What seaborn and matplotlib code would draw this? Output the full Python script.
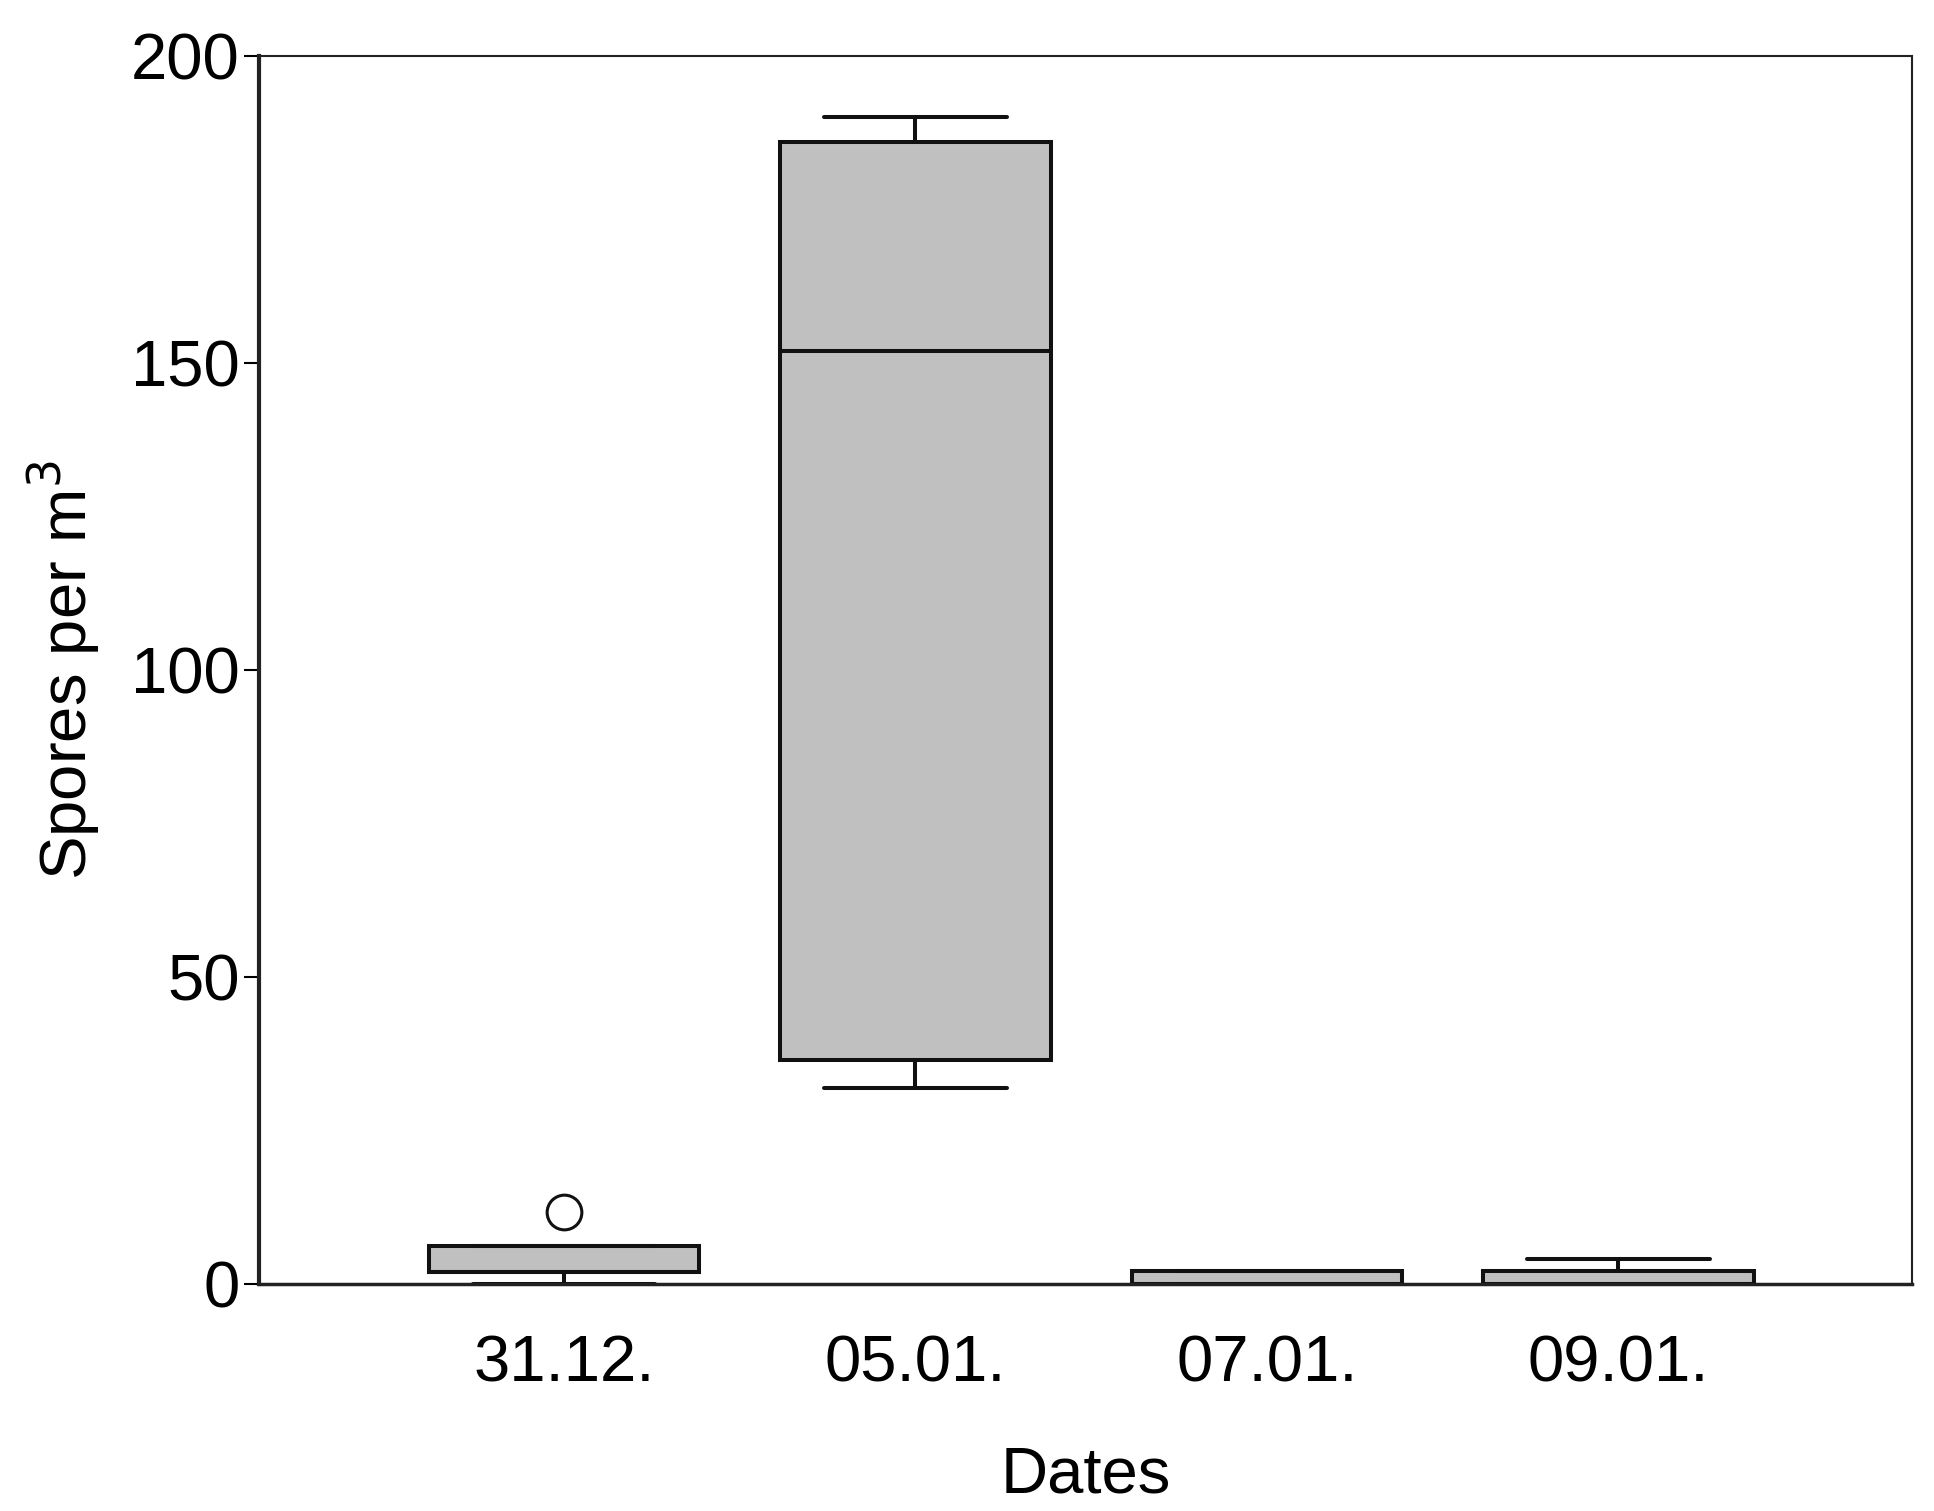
import pandas as pd
import matplotlib
matplotlib.use("Agg")
import matplotlib.pyplot as plt
import seaborn as sns

# Spore counts per sampling date
dates = ["31.12.", "05.01.", "07.01.", "09.01."]
spores_3112 = [0, 2, 2, 2, 6.3, 6.3, 11.8]
spores_0501 = [32, 36.5, 152, 186, 190]
spores_0701 = [0, 0, 0, 2.2, 2.2]
spores_0901 = [0, 0, 0, 2.2, 4.2]

y_ticks = [0, 50, 100, 150, 200]

sns.set_style("white")
plt.rcParams['font.family'] = ['Liberation Sans', 'DejaVu Sans']
plt.rcParams['text.color'] = 'black'
plt.rcParams['axes.labelcolor'] = 'black'
plt.rcParams['xtick.color'] = 'black'
plt.rcParams['ytick.color'] = 'black'

rows = []
for d, vals in zip(dates, [spores_3112, spores_0501, spores_0701, spores_0901]):
    for v in vals:
        rows.append({"Dates": d, "Spores": v})
df = pd.DataFrame(rows)

fig = plt.figure(figsize=(19.34, 15.11), dpi=100)
ax = fig.add_axes([0.134, 0.150, 0.8546, 0.813])

sns.boxplot(
    data=df, x="Dates", y="Spores", order=dates, ax=ax,
    color="#c0c0c0", width=0.77, whis=1.2, saturation=1,
    linecolor="#111111", linewidth=2.9, capwidths=0.52,
    flierprops=dict(marker="o", markersize=25, markerfacecolor="white",
                    markeredgecolor="#111111", markeredgewidth=2.2),
)

ax.set_xlim(-0.867, 3.835)
ax.set_ylim(0, 200)
ax.set_yticks(y_ticks)
ax.tick_params(axis="y", labelsize=47, length=11, width=1.5, direction="out", left=True, pad=3)
ax.tick_params(axis="x", labelsize=47, length=0, pad=36)
ax.set_xlabel("Dates", fontsize=47, labelpad=37)
ax.set_ylabel("Spores per m$^3$", fontsize=47, labelpad=21)

for side, lw in [("left", 3), ("bottom", 2.5), ("top", 1.5), ("right", 1.5)]:
    ax.spines[side].set_visible(True)
    ax.spines[side].set_linewidth(lw)
    ax.spines[side].set_color("#222222")

fig.savefig("out.png", dpi=100)
